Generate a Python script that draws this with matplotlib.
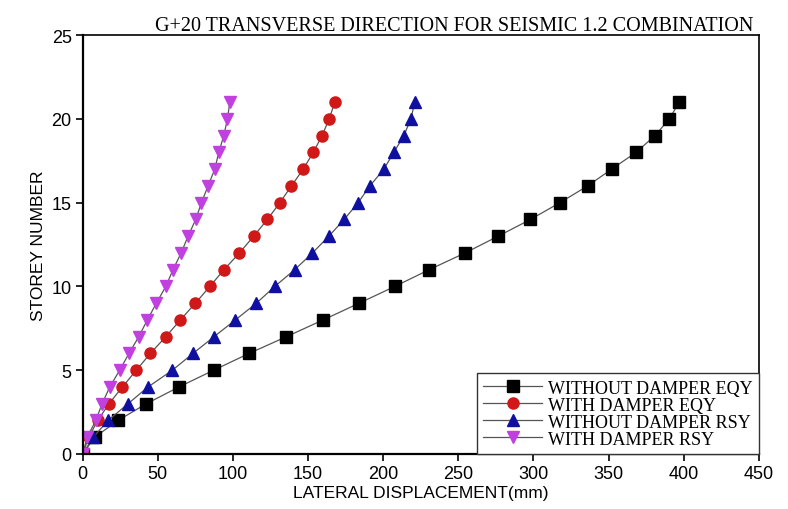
import matplotlib
matplotlib.use("Agg")
import matplotlib.pyplot as plt

storeys = list(range(0, 22))
without_damper_eqy = [0, 8, 23.5, 42.4, 64.1, 87.2, 110.7, 135.6, 160, 184, 207.7, 230.6,
                      254.5, 276.5, 298, 317.6, 336, 352, 368.2, 380.8, 390.4, 397]
with_damper_eqy = [0, 4, 10, 17.5, 26.4, 35.7, 45, 55.3, 65, 75, 84.6, 94,
                   104.3, 113.8, 122.9, 131.2, 138.9, 146.7, 153.4, 159.3, 164, 167.8]
without_damper_rsy = [0, 7, 16.9, 30.2, 43.5, 59.7, 73.4, 87.4, 101.6, 115.6, 127.8, 141.1,
                      152.9, 163.8, 174, 183.3, 191.1, 200.4, 207, 213.7, 218.4, 221]
with_damper_rsy = [0, 3, 8.7, 12.9, 18, 24.6, 30.8, 37.3, 43, 49, 55.3, 60.1,
                   65.5, 70.1, 75.2, 79, 83.4, 87.9, 90.5, 93.9, 96.3, 97.9]

labels = ["WITHOUT DAMPER EQY", "WITH DAMPER EQY", "WITHOUT DAMPER RSY", "WITH DAMPER RSY"]
series = [without_damper_eqy, with_damper_eqy, without_damper_rsy, with_damper_rsy]
markers = ["s", "o", "^", "v"]
colors = ["#000000", "#d01818", "#1010a0", "#c040e0"]

fig = plt.figure(figsize=(7.88, 5.10), dpi=100)
ax = fig.add_axes([0.105, 0.108, 0.858, 0.821])

for xs, lab, m, c in zip(series, labels, markers, colors):
    ax.plot(xs, storeys, color="#555555", linewidth=0.9, marker=m, markersize=8,
            markerfacecolor=c, markeredgecolor=c, label=lab)

ax.set_xlim(0, 450)
ax.set_ylim(0, 25)
ax.set_xticks(range(0, 451, 50))
ax.set_yticks(range(0, 26, 5))
sans = "Liberation Sans"
for t in ax.get_xticklabels() + ax.get_yticklabels():
    t.set_fontfamily(sans)
    t.set_fontsize(13)
ax.tick_params(direction="out", length=5, width=1.2, pad=3)
ax.set_xlabel("LATERAL DISPLACEMENT(mm)", fontfamily=sans, fontsize=12.5, labelpad=2)
ax.set_ylabel("STOREY NUMBER", fontfamily=sans, fontsize=12.5, labelpad=4)
ax.set_title("G+20 TRANSVERSE DIRECTION FOR SEISMIC 1.2 COMBINATION",
             fontfamily="Liberation Serif", fontsize=14.5, pad=3, x=0.55)
for s in ["left", "bottom"]:
    ax.spines[s].set_linewidth(1.6)
for s in ["top", "right"]:
    ax.spines[s].set_linewidth(1.2)

leg = ax.legend(loc="lower right", prop={"family": "Liberation Serif", "size": 13},
                fancybox=False, edgecolor="#333333", framealpha=1,
                borderpad=0.35, labelspacing=0.0, handlelength=3.3, handletextpad=0.3,
                borderaxespad=0.0)
leg.get_frame().set_linewidth(1.0)

fig.savefig("out.png", dpi=100)
